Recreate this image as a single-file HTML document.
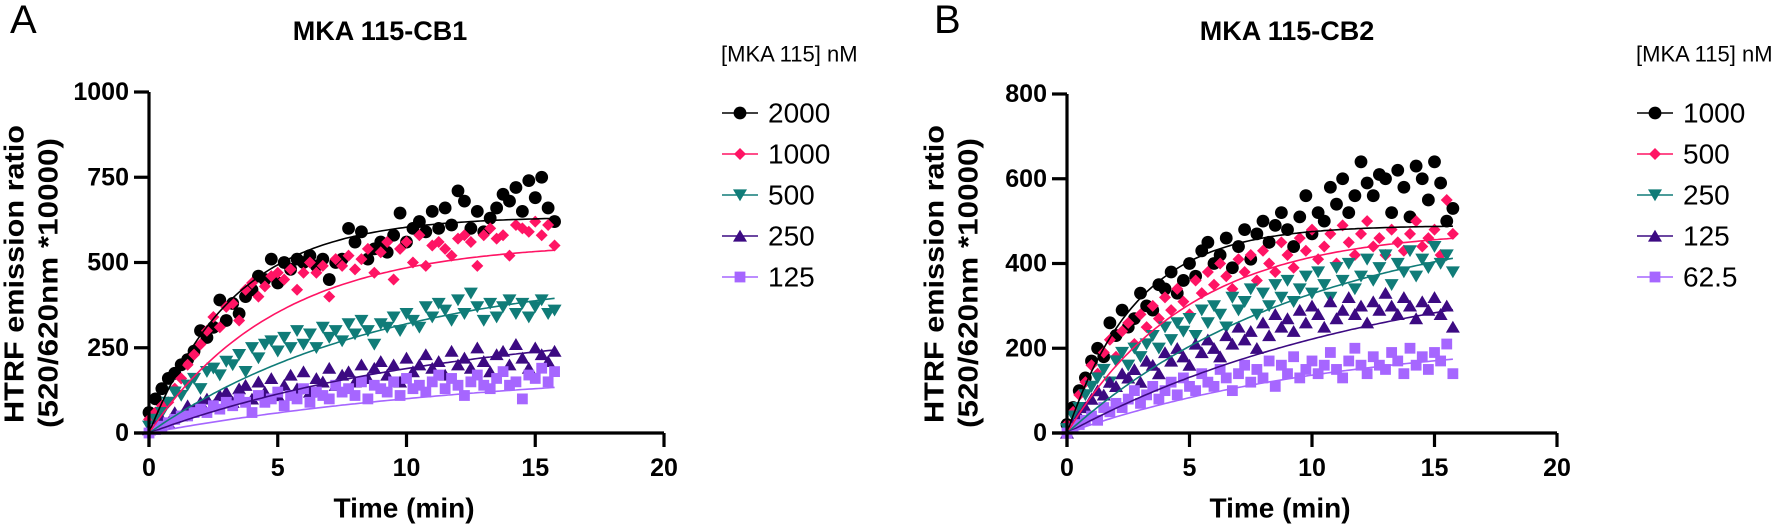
<!DOCTYPE html>
<html><head><meta charset="utf-8"><style>
html,body{margin:0;padding:0;background:#fff;}
svg{display:block;font-family:"Liberation Sans",Arial,sans-serif;}
</style></head><body>
<svg id="chart" width="1772" height="528" viewBox="0 0 1772 528" xmlns="http://www.w3.org/2000/svg"></svg>
<script>
const times=[0,0.25,0.5,0.75,1,1.25,1.5,1.75,2,2.25,2.5,2.75,3,3.25,3.5,3.75,4,4.25,4.5,4.75,5,5.25,5.5,5.75,6,6.25,6.5,6.75,7,7.25,7.5,7.75,8,8.25,8.5,8.75,9,9.25,9.5,9.75,10,10.25,10.5,10.75,11,11.25,11.5,11.75,12,12.25,12.5,12.75,13,13.25,13.5,13.75,14,14.25,14.5,14.75,15,15.25,15.5,15.75];
const xTicks=[0,5,10,15,20];
const yTicksA=[0,250,500,750,1000];
const yTicksB=[0,200,400,600,800];
const labelsA=["2000","1000","500","250","125"];
const labelsB=["1000","500","250","125","62.5"];
const a2000=[60,100,130,160,175,200,215,240,300,280,310,390,330,380,350,400,420,460,450,510,440,500,480,510,500,520,490,510,450,500,510,600,560,590,510,540,560,530,580,645,560,600,620,590,650,600,660,610,710,680,600,650,590,630,660,700,680,720,650,740,690,750,660,620];
const a1000=[40,60,80,90,130,160,200,230,260,300,340,310,370,380,330,420,440,400,430,460,470,450,480,420,470,500,470,490,400,510,490,520,480,510,540,470,530,560,450,540,560,500,580,490,550,560,540,520,570,580,560,490,580,600,570,580,520,610,600,590,620,580,610,550];
const a500=[20,40,60,90,120,110,140,160,130,180,190,170,210,200,230,180,250,220,260,270,240,280,250,300,260,290,250,310,280,300,270,320,290,330,300,260,320,310,340,300,350,330,310,370,340,380,360,330,390,350,410,370,330,380,340,370,390,350,380,340,370,390,350,360];
const a250=[10,20,40,30,60,50,80,70,90,100,80,110,120,90,130,140,100,150,120,160,110,140,170,130,180,120,160,150,190,140,170,180,150,200,160,190,210,170,200,150,220,180,200,230,190,210,170,240,200,220,190,250,210,180,230,240,200,260,220,190,250,230,210,240];
const a125=[0,10,20,30,40,50,50,60,70,60,80,70,90,80,100,90,60,110,90,100,120,80,110,100,130,90,120,110,100,140,120,130,110,150,100,140,130,120,150,110,160,130,140,120,150,170,130,160,140,110,150,170,140,130,160,180,140,150,100,170,160,190,150,180];
const b1000=[20,60,100,130,170,200,180,260,230,290,250,270,330,300,290,350,340,380,330,360,400,370,430,450,400,420,460,390,440,480,410,470,500,450,490,520,480,440,510,560,470,520,500,580,540,600,520,560,640,590,560,610,600,520,620,580,510,630,600,550,640,590,500,530];
const b500=[20,50,90,120,160,140,190,220,180,240,260,210,280,250,300,270,320,290,340,310,280,360,330,380,350,400,370,340,410,380,420,360,430,400,380,450,420,390,460,430,480,410,440,470,400,490,450,420,470,500,440,460,420,480,450,430,470,500,440,460,480,420,550,470];
const b250=[10,40,60,90,110,130,150,120,170,190,160,200,180,210,230,200,250,220,260,240,270,230,290,260,300,280,250,320,290,310,340,280,330,300,350,320,360,310,340,370,330,380,350,320,390,360,400,340,370,410,360,390,420,350,400,380,430,370,410,390,440,400,420,380];
const b125=[0,20,40,60,80,100,90,120,110,140,130,150,120,170,160,140,190,170,200,180,160,210,190,220,200,180,230,210,250,220,240,200,260,230,280,250,270,240,290,260,300,280,250,310,270,290,320,280,300,260,310,290,330,300,280,320,300,270,310,290,320,280,300,250];
const b62=[0,10,20,30,40,30,60,50,70,60,80,100,70,90,110,80,100,120,90,130,110,100,140,120,110,150,130,100,140,160,120,150,130,170,110,160,140,180,130,150,170,140,160,190,150,130,170,200,160,140,180,160,150,190,170,140,200,160,180,150,190,170,210,140];
const plateauA=[635,560,480,330,200];
const rateA=[0.3,0.2,0.11,0.085,0.07];
const plateauB=[490,480,520,420,230];
const rateB=[0.35,0.2,0.1,0.075,0.09];

const NS="http://www.w3.org/2000/svg";
const svg=document.getElementById('chart');
const colors=["#000000","#ff1464","#107c78","#3c0a82","#a666ff"];
const shapes=["circle","diamond","down","up","square"];
function mk(tag,attrs,parent){const e=document.createElementNS(NS,tag);for(const k in attrs)e.setAttribute(k,attrs[k]);(parent||svg).appendChild(e);return e;}
function txt(s,x,y,size,weight,anchor,parent,rot){const t=mk('text',{x:x,y:y,'font-size':size,'font-weight':weight,'text-anchor':anchor,'dominant-baseline':'central',fill:'#000'},parent);if(rot)t.setAttribute('transform','rotate(-90 '+x+' '+y+')');t.textContent=s;return t;}
function marker(shape,x,y,c,g,s){s=s||1;let e;
 if(shape==='circle')e=mk('circle',{cx:x,cy:y,r:6.4*s,fill:c},g);
 else if(shape==='diamond'){const r=6*s;e=mk('polygon',{points:`${x},${y-r} ${x+r},${y} ${x},${y+r} ${x-r},${y}`,fill:c},g);}
 else if(shape==='down'){const r=7*s;e=mk('polygon',{points:`${x-r},${y-r*0.8} ${x+r},${y-r*0.8} ${x},${y+r*0.9}`,fill:c},g);}
 else if(shape==='up'){const r=7*s;e=mk('polygon',{points:`${x-r},${y+r*0.8} ${x+r},${y+r*0.8} ${x},${y-r*0.9}`,fill:c},g);}
 else {const r=5.4*s;e=mk('rect',{x:x-r,y:y-r,width:2*r,height:2*r,fill:c},g);}
 return e;}

function panel(cfg){
 const g=mk('g',{});
 
 
 const xs=v=>cfg.x0+(cfg.x1-cfg.x0)*v/20;
 const ys=v=>cfg.y0-(cfg.y0-cfg.y1)*v/cfg.ymax;
 cfg.series.forEach((arr,si)=>{
  const sg=mk('g',{},g);
  
  
  arr.forEach((v,i)=>{const m=marker(shapes[si],xs(times[i]),ys(v),colors[si],sg);
   
   });
 });
 cfg.series.forEach((arr,si)=>{
  let d='';for(let t=0;t<=15.75;t+=0.125){const v=cfg.plat[si]*(1-Math.exp(-cfg.rate[si]*t));d+=(d?'L':'M')+xs(t).toFixed(1)+','+ys(v).toFixed(1);}
  const p=mk('path',{d:d,fill:'none',stroke:colors[si],'stroke-width':1.6},g);
  
  
 });
 const ax=mk('g',{stroke:'#000','stroke-width':3.2,fill:'none'},g);
 
 
 mk('line',{x1:cfg.x0,y1:cfg.y1,x2:cfg.x0,y2:cfg.y0+14},ax);
 mk('line',{x1:cfg.x0-15,y1:cfg.y0,x2:cfg.x1,y2:cfg.y0},ax);
 cfg.yt.forEach(v=>{mk('line',{x1:cfg.x0-15,y1:ys(v),x2:cfg.x0,y2:ys(v)},ax);
  const t=txt(String(v),cfg.x0-20,ys(v),25,'bold','end',g);
  
  });
 xTicks.forEach(v=>{mk('line',{x1:xs(v),y1:cfg.y0,x2:xs(v),y2:cfg.y0+14},ax);
  const t=txt(String(v),xs(v),cfg.y0+35,25,'bold','middle',g);
  
  });
 let t=txt('Time (min)',cfg.timex,508,28,'bold','middle',g);
 
 
 t=txt('HTRF emission ratio',cfg.yl1,274,28,'bold','middle',g,true);
 t.setAttribute('textLength','298');
 t.setAttribute('lengthAdjust','spacingAndGlyphs');
 
 
 t=txt('(520/620nm *10000)',cfg.yl2,283,28,'bold','middle',g,true);
 t.setAttribute('textLength','290');
 t.setAttribute('lengthAdjust','spacingAndGlyphs');
 
 
 t=txt(cfg.title,cfg.tx,31,27,'bold','middle',g);
 
 
 t=txt(cfg.letter,cfg.lx,20,40,'normal','start',g);
 
 
 const lg=mk('g',{},g);
 
 
 t=txt('[MKA 115] nM',cfg.legx+11,54,22,'normal','start',lg);
 
 
 cfg.labels.forEach((l,i)=>{const y=113+i*41;const eg=mk('g',{},lg);
  
  
  mk('line',{x1:cfg.legx+12,y1:y,x2:cfg.legx+48,y2:y,stroke:colors[i],'stroke-width':1.6},eg);
  marker(shapes[i],cfg.legx+30,y,colors[i],eg,1);
  txt(l,cfg.legx+58,y,28,'normal','start',eg);});
}
panel({name:'panel-a-cb1',x0:149,x1:664,y0:433,y1:92,ymax:1000,yt:yTicksA,series:[a2000,a1000,a500,a250,a125],labels:labelsA,plat:plateauA,rate:rateA,yl1:14,yl2:48,title:'MKA 115-CB1',tx:380,letter:'A',lx:10,legx:710,timex:404});
panel({name:'panel-b-cb2',x0:1067,x1:1557,y0:433,y1:94,ymax:800,yt:yTicksB,series:[b1000,b500,b250,b125,b62],labels:labelsB,plat:plateauB,rate:rateB,yl1:934,yl2:968,title:'MKA 115-CB2',tx:1287,letter:'B',lx:934,legx:1625,timex:1280});
</script>
</body></html>
